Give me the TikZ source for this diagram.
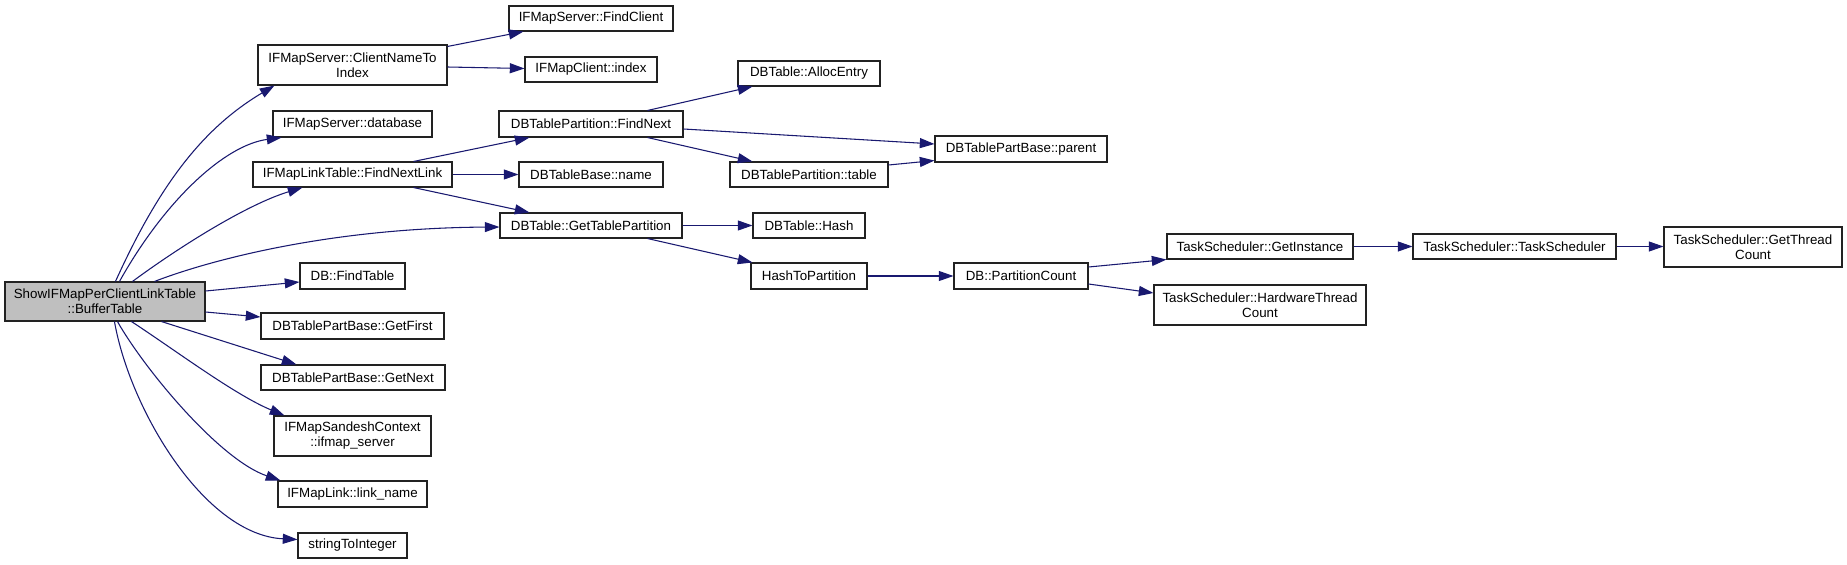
\documentclass[tikz,border=0pt]{standalone}
\usepackage{fontspec}
\setmainfont{Liberation Sans}
\usetikzlibrary{arrows.meta,calc}
\definecolor{edgeblue}{HTML}{191970}
\definecolor{maingray}{HTML}{BFBFBF}
\definecolor{boxline}{HTML}{222222}
\tikzset{
  fn/.style={draw=boxline, line width=0.8pt, inner sep=0pt, align=center,
    font=\fontsize{10}{11.2}\selectfont},
  call/.style={draw=edgeblue, line width=0.8pt, -{Triangle[length=11pt,width=7.5pt]}},
}
\newcommand\bx[7]{% name, cx, cy, w, h, text, extra
  \node[fn, minimum width=#4*0.75pt, minimum height=#5*0.75pt, #7] (#1) at (#2,#3) {#6};}
\begin{document}
\begin{tikzpicture}[x=0.75pt,y=-0.75pt]
\useasboundingbox[fill=white] (0,0) rectangle (1847,564);
% nodes
\bx{main}{105}{301.5}{200}{39}{ShowIFMapPerClientLinkTable\\::BufferTable}{fill=maingray}
\bx{cnti}{352.5}{65}{189}{40}{IFMapServer::ClientNameTo\\Index}{}
\bx{db}{352.5}{124}{159}{26}{IFMapServer::database}{}
\bx{fnl}{352.5}{174.5}{199}{25}{IFMapLinkTable::FindNextLink}{}
\bx{ft}{352.5}{276}{105}{26}{DB::FindTable}{}
\bx{gf}{352.5}{326}{183}{26}{DBTablePartBase::GetFirst}{}
\bx{gn}{353}{377.5}{184}{25}{DBTablePartBase::GetNext}{}
\bx{isc}{352.5}{436}{157}{40}{IFMapSandeshContext\\::ifmap\_server}{}
\bx{ln}{352.5}{494}{149}{26}{IFMapLink::link\_name}{}
\bx{sti}{352.5}{545.5}{109}{25}{stringToInteger}{}
\bx{fc}{591}{18.5}{164}{25}{IFMapServer::FindClient}{}
\bx{idx}{591}{69.5}{132}{25}{IFMapClient::index}{}
\bx{fnx}{591}{124}{184}{26}{DBTablePartition::FindNext}{}
\bx{nm}{591}{174.5}{144}{25}{DBTableBase::name}{}
\bx{gtp}{591}{225.5}{182}{25}{DBTable::GetTablePartition}{}
\bx{ae}{809}{73.5}{142}{25}{DBTable::AllocEntry}{}
\bx{tbl}{809}{174.5}{158}{25}{DBTablePartition::table}{}
\bx{hash}{809}{225.5}{112}{25}{DBTable::Hash}{}
\bx{htp}{809}{276}{116}{26}{HashToPartition}{}
\bx{par}{1021}{149}{172}{26}{DBTablePartBase::parent}{}
\bx{pc}{1021}{276}{134}{26}{DB::PartitionCount}{}
\bx{gi}{1260}{246.5}{186}{25}{TaskScheduler::GetInstance}{}
\bx{hw}{1260}{305}{212}{40}{TaskScheduler::HardwareThread\\Count}{}
\bx{ts}{1514.5}{246.5}{203}{25}{TaskScheduler::TaskScheduler}{}
\bx{gtc}{1753}{247}{178}{40}{TaskScheduler::GetThread\\Count}{}
% edges from main
\draw[call] ($(main.north west)+(111,0)$) .. controls (161,181) and (205,127) .. ($(cnti.south west)+(17,0)$);
\draw[call] ($(main.north west)+(115,0)$) .. controls (165,200) and (225,145) .. ($(db.south west)+(9,0)$);
\draw[call] ($(main.north west)+(128,0)$) .. controls (175,250) and (245,205) .. ($(fnl.south west)+(50,0)$);
\draw[call] ($(main.north west)+(150,0)$) .. controls (210,260) and (330,228) .. ($(gtp.west)+(0,1.5)$);
\draw[call] ($(main.east)+(0,-10.5)$) -- ($(ft.west)+(0,6)$);
\draw[call] ($(main.east)+(0,10.5)$) -- ($(gf.west)+(0,-9)$);
\draw[call] ($(main.south west)+(157,0)$) -- ($(gn.north west)+(36,0)$);
\draw[call] ($(main.south west)+(127,0)$) .. controls (175,350) and (235,395) .. ($(isc.north west)+(11,0)$);
\draw[call] ($(main.south west)+(113,0)$) .. controls (145,370) and (220,460) .. ($(ln.north west)+(3,0)$);
\draw[call] ($(main.south west)+(110,0)$) .. controls (130,410) and (205,535) .. ($(sti.west)+(0,-6)$);
% other edges
\draw[call] ($(cnti.north east)+(0,2)$) -- ($(fc.south west)+(15,0)$);
\draw[call] ($(cnti.east)+(0,2)$) -- ($(idx.west)+(0,-1)$);
\draw[call] ($(fnl.north east)+(-39,0)$) -- ($(fnx.south west)+(31,0)$);
\draw[call] (fnl.east) -- (nm.west);
\draw[call] ($(fnl.south east)+(-39,0)$) -- ($(gtp.north west)+(30,0)$);
\draw[call] ($(fnx.north east)+(-36,0)$) -- ($(ae.south west)+(15,0)$);
\draw[call] ($(fnx.east)+(0,5)$) -- ($(par.west)+(0,-5)$);
\draw[call] ($(fnx.south east)+(-36,0)$) -- ($(tbl.north west)+(23,0)$);
\draw[call] ($(tbl.east)+(0,-9.5)$) -- ($(par.south west)+(0,-2)$);
\draw[call] (gtp.east) -- (hash.west);
\draw[call] ($(gtp.south east)+(-35,0)$) -- ($(htp.north west)+(2,0)$);
\draw[call] (htp.east) -- (pc.west);
\draw[call] ($(pc.east)+(0,-9)$) -- (gi.south west);
\draw[call] ($(pc.east)+(0,8)$) -- ($(hw.west)+(0,-12)$);
\draw[call] (gi.east) -- (ts.west);
\draw[call] (ts.east) -- ($(gtc.west)+(0,-0.5)$);
\end{tikzpicture}
\end{document}
